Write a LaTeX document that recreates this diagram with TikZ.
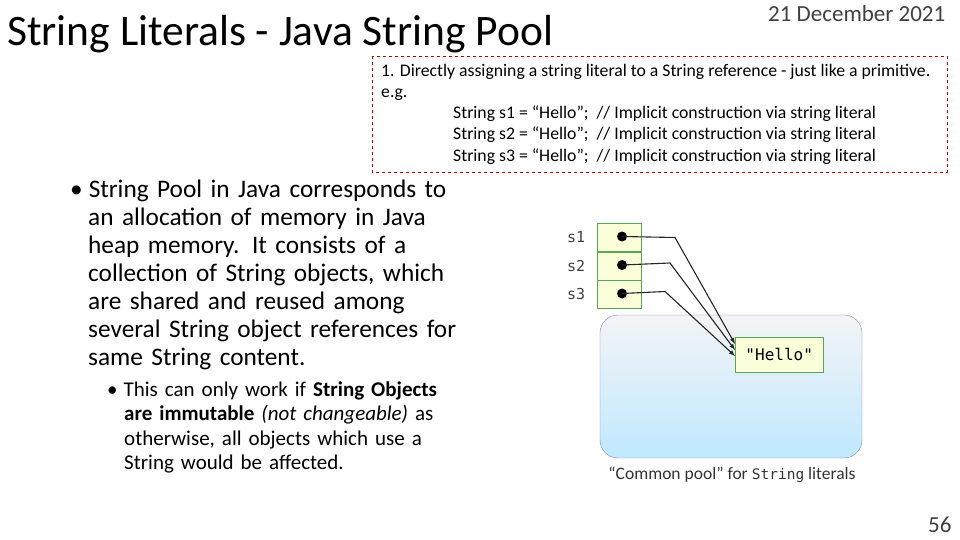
\documentclass[tikz,border=0pt]{standalone}
\usepackage{fontspec}
\setmainfont{Carlito}
\setmonofont{DejaVu Sans Mono}
\begin{document}
\begin{tikzpicture}[x=1pt,y=-1pt,
  txt/.style={anchor=base west,inner sep=0pt},
  refbox/.style={draw=green!30!gray,fill=green!12!yellow!15,minimum width=44pt,minimum height=28pt,inner sep=0pt},
  ptr/.style={-latex,line width=1.1pt,black!85}]
\useasboundingbox (0,0) rectangle (960,540);
\node[txt,font=\fontsize{43.5}{46}\selectfont] (title) at (7,46) {String Literals - Java String Pool};
\node[txt,font=\fontsize{23}{26}\selectfont,text=black!75] (date) at (768,22) {21 December 2021};
\draw[red!70!black,dashed] (372,56) rectangle (947,172);
\node[txt,font=\fontsize{17.7}{20}\selectfont] (l1) at (381,77) {1. Directly assigning a string literal to a String reference - just like a primitive.};
\node[txt,font=\fontsize{17.7}{20}\selectfont] (l2) at (381,98) {e.g.};
\foreach \i/\y in {1/119,2/140,3/162}
  \node[txt,font=\fontsize{17.7}{20}\selectfont] (c\i) at (453,\y) {String s\i{} = “Hello";\ \ // Implicit construction via string literal};
\node[txt,font=\fontsize{25.3}{28}\selectfont,text width=420pt,align=left] (b1) at (70,197) {\raggedright\textbullet\hspace{6pt}String Pool in Java corresponds to\\
\hspace*{18pt}an allocation of memory in Java\\
\hspace*{18pt}heap memory. It consists of a\\
\hspace*{18pt}collection of String objects, which\\
\hspace*{18pt}are shared and reused among\\
\hspace*{18pt}several String object references for\\
\hspace*{18pt}same String content.};
\node[txt,font=\fontsize{21}{24.5}\selectfont,text width=360pt,align=left] (b2) at (107,396) {\raggedright\textbullet\hspace{6pt}This can only work if \textbf{String Objects}\\
\hspace*{17pt}\textbf{are immutable} \textit{(not changeable)} as\\
\hspace*{17pt}otherwise, all objects which use a\\
\hspace*{17pt}String would be affected.};
\node[draw=blue!40!gray!70,rounded corners=18pt,minimum width=262pt,minimum height=143pt,inner sep=0pt,
  top color=blue!10!gray!8,bottom color=blue!35!cyan!25] (pool) at (731,386.5) {};
\node[refbox,minimum width=88pt,minimum height=35pt,anchor=north west,font=\ttfamily\fontsize{16}{18}\selectfont] (hello) at (735,337) {"Hello"};
\node[refbox] (r1) at (619,237.5) {};
\node[refbox] (r2) at (619,266) {};
\node[refbox] (r3) at (619,294.5) {};
\foreach \i in {1,2,3} {
  \node[font=\ttfamily\fontsize{15}{16}\selectfont,text=black!75,anchor=east] (s\i) at ([xshift=-8pt]r\i.west) {s\i};
  \fill ([xshift=3pt,yshift=1pt]r\i.center) circle (5pt) coordinate (d\i);
}
\coordinate (h1) at (735,344);
\coordinate (h2) at (735,350);
\coordinate (h3) at (735,356);
\draw[ptr] (d1) -- (675,237.5) -- (h1);
\draw[ptr] (d2) -- (670,263) -- (h2);
\draw[ptr] (d3) -- (665,291.5) -- (h3);
\node[font=\fontsize{17.5}{20}\selectfont,text=black!80] (cap) at (732,475) {“Common pool” for {\ttfamily\fontsize{14.5}{16}\selectfont String} literals};
\node[txt,font=\fontsize{23}{26}\selectfont,text=black!75] (pg) at (928,532) {56};
\end{tikzpicture}
\end{document}
